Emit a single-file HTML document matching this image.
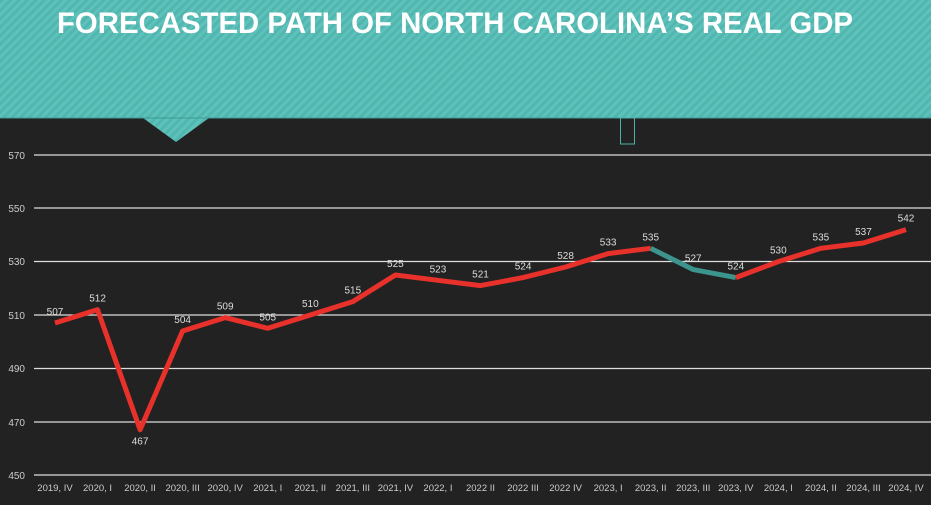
<!DOCTYPE html>
<html><head><style>
body{margin:0;width:931px;height:500px;overflow:hidden;background:#222;font-family:"Liberation Sans",sans-serif}
</style></head><body>
<svg width="931" height="500" viewBox="0 0 931 500" xmlns="http://www.w3.org/2000/svg">
<defs>
<pattern id="st" width="6" height="6" patternUnits="userSpaceOnUse" patternTransform="rotate(45)">
<rect width="6" height="6" fill="#5cc2bb"/><rect width="3" height="6" fill="#52b6af"/>
</pattern>
</defs>
<rect width="931" height="500" fill="#222"/>
<path d="M0 0H931V118H209L176 142L143 118H0Z" fill="url(#st)"/>
<line x1="0" y1="118" x2="931" y2="118" stroke="#3d9a93" stroke-width="1"/>
<rect x="620.5" y="118" width="14" height="26" fill="none" stroke="#4fb0a8" stroke-width="1"/>
<text x="57" y="33" fill="#fff" font-size="30" font-weight="bold" textLength="796" lengthAdjust="spacingAndGlyphs">FORECASTED PATH OF NORTH CAROLINA’S REAL GDP</text>
<g stroke="#ddd" stroke-width="1.2">
<line x1="34" y1="155" x2="931" y2="155"/><line x1="34" y1="208" x2="931" y2="208"/><line x1="34" y1="261.5" x2="931" y2="261.5"/><line x1="34" y1="315" x2="931" y2="315"/><line x1="34" y1="368.5" x2="931" y2="368.5"/><line x1="34" y1="422" x2="931" y2="422"/><line x1="34" y1="475" x2="931" y2="475"/>
</g>
<g fill="#ccc" font-size="10" text-anchor="end">
<text x="25" y="159">570</text><text x="25" y="212">550</text><text x="25" y="265">530</text><text x="25" y="319">510</text><text x="25" y="372">490</text><text x="25" y="426">470</text><text x="25" y="479">450</text>
</g>
<g id="g"></g>
</svg>
<script>
var v=[507,512,467,504,509,505,510,515,525,523,521,524,528,533,535,527,524,530,535,537,542];
var lb=["2019, IV","2020, I","2020, II","2020, III","2020, IV","2021, I","2021, II","2021, III","2021, IV","2022, I","2022 II","2022 III","2022 IV","2023, I","2023, II","2023, III","2023, IV","2024, I","2024, II","2024, III","2024, IV"];
var X=i=>55+i*42.55,Y=a=>475-(a-450)*2.667;
var s="",g=document.getElementById("g");
function seg(a,b,c){var p=[];for(var i=a;i<=b;i++)p.push(X(i).toFixed(1)+","+Y(v[i]).toFixed(1));s+='<polyline points="'+p.join(" ")+'" fill="none" stroke="'+c+'" stroke-width="5" stroke-linejoin="round"/>';}
seg(0,14,"#e8312a");seg(14,16,"#3b958d");seg(16,20,"#e8312a");
for(var i=0;i<21;i++){var y=i==2?Y(v[i])+15:Y(v[i])-8;
s+='<text x="'+X(i)+'" y="'+y+'" fill="#ddd" font-size="10" text-anchor="middle">'+v[i]+'</text>';
s+='<text x="'+X(i)+'" y="491" fill="#ccc" font-size="9.5" text-anchor="middle">'+lb[i]+'</text>';}
g.innerHTML=s;
</script>
</body></html>
